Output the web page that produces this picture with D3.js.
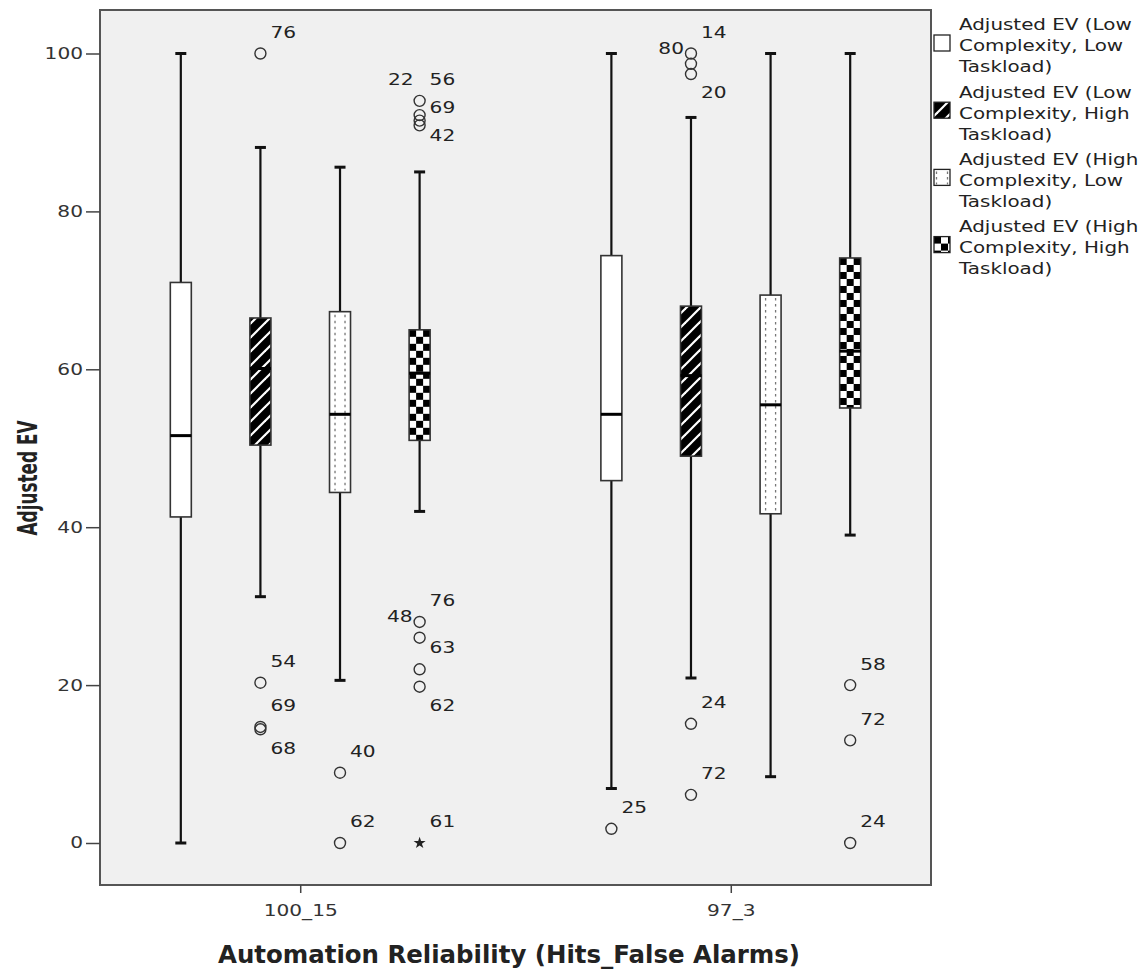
<!DOCTYPE html>
<html><head><meta charset="utf-8">
<script src="https://cdn.jsdelivr.net/npm/d3@7"></script>
<style>body{margin:0;background:#fff} text{font-family:"DejaVu Sans",sans-serif}</style>
</head><body><svg id="c" width="1147" height="977"></svg>
<script>
const categories = ["100_15", "97_3"];
const seriesNames = [
  "Adjusted EV (Low Complexity, Low Taskload)",
  "Adjusted EV (Low Complexity, High Taskload)",
  "Adjusted EV (High Complexity, Low Taskload)",
  "Adjusted EV (High Complexity, High Taskload)"
];
const legendLines = [
  ["Adjusted EV (Low", "Complexity, Low", "Taskload)"],
  ["Adjusted EV (Low", "Complexity, High", "Taskload)"],
  ["Adjusted EV (High", "Complexity, Low", "Taskload)"],
  ["Adjusted EV (High", "Complexity, High", "Taskload)"]
];
// [whiskerLow, q1, median, q3, whiskerHigh] for each category
const statsLowLow   = [[0, 41.3, 51.6, 71.0, 100], [6.9, 45.9, 54.3, 74.4, 100]];
const statsLowHigh  = [[31.2, 50.4, 60.1, 66.5, 88.1], [20.9, 49.0, 59.2, 68.0, 91.9]];
const statsHighLow  = [[20.6, 44.4, 54.3, 67.3, 85.6], [8.4, 41.7, 55.5, 69.4, 100]];
const statsHighHigh = [[42.0, 51.0, 59.5, 65.0, 85.0], [39.0, 55.1, 62.3, 74.1, 100]];
const yTicks = [0, 20, 40, 60, 80, 100];
const xTitle = "Automation Reliability (Hits_False Alarms)";
const yTitle = "Adjusted EV";
// outliers: category, series index, value, case labels with placement code
const outliers = [
  {cat: "100_15", s: 1, v: 100,  labels: [["76", "ur"]]},
  {cat: "100_15", s: 1, v: 20.3, labels: [["54", "ur"]]},
  {cat: "100_15", s: 1, v: 14.7, labels: [["69", "ur"]]},
  {cat: "100_15", s: 1, v: 14.4, labels: [["68", "lr"]]},
  {cat: "100_15", s: 2, v: 8.9,  labels: [["40", "ur"]]},
  {cat: "100_15", s: 2, v: 0,    labels: [["62", "ur"]]},
  {cat: "100_15", s: 3, v: 94.0, labels: [["56", "ur"], ["22", "ul"]]},
  {cat: "100_15", s: 3, v: 92.2, labels: [["69", "r"]]},
  {cat: "100_15", s: 3, v: 91.5, labels: []},
  {cat: "100_15", s: 3, v: 90.9, labels: [["42", "rd"]]},
  {cat: "100_15", s: 3, v: 28.0, labels: [["76", "ur"], ["48", "l"]]},
  {cat: "100_15", s: 3, v: 26.0, labels: [["63", "rd"]]},
  {cat: "100_15", s: 3, v: 22.0, labels: []},
  {cat: "100_15", s: 3, v: 19.8, labels: [["62", "lr"]]},
  {cat: "100_15", s: 3, v: 0,    labels: [["61", "ur"]], extreme: true},
  {cat: "97_3", s: 0, v: 1.8,  labels: [["25", "ur"]]},
  {cat: "97_3", s: 1, v: 100,  labels: [["14", "ur"], ["80", "l"]]},
  {cat: "97_3", s: 1, v: 98.7, labels: []},
  {cat: "97_3", s: 1, v: 97.4, labels: [["20", "lr"]]},
  {cat: "97_3", s: 1, v: 15.1, labels: [["24", "ur"]]},
  {cat: "97_3", s: 1, v: 6.1,  labels: [["72", "ur"]]},
  {cat: "97_3", s: 3, v: 20.0, labels: [["58", "ur"]]},
  {cat: "97_3", s: 3, v: 13.0, labels: [["72", "ur"]]},
  {cat: "97_3", s: 3, v: 0,    labels: [["24", "ur"]]}
];

const allStats = [statsLowLow, statsLowHigh, statsHighLow, statsHighHigh];
const SX = 1.3;          // horizontal stretch of text
const FS = 15.5;
const place = {
  ur: {dx: 10, dy: -21, a: "start"},
  ul: {dx: -6, dy: -21, a: "end"},
  r:  {dx: 10, dy: -8,  a: "start"},
  rd: {dx: 10, dy: 10,  a: "start"},
  lr: {dx: 10, dy: 19,  a: "start"},
  l:  {dx: -7, dy: -5,  a: "end"}
};

const svg = d3.select("#c");
const defs = svg.append("defs");
const P = {left: 100, top: 10, right: 931, bottom: 885};

const x = d3.scalePoint().domain(categories).range([P.left, P.right]).padding(0.465);
const inner = d3.scaleBand().domain(d3.range(seriesNames.length)).range([-159.2, 159.2]);
const y = d3.scaleLinear().domain([0, 100]).range([843, 53.5]);
const BW = 21;

function txt(g, px, py, s, opt = {}) {
  return g.append("g").attr("transform", `translate(${px},${py}) scale(${SX},1)`)
    .append("text").attr("text-anchor", opt.anchor || "start").attr("dy", "0.35em")
    .attr("font-size", opt.size || FS).attr("fill", opt.fill || "#222").text(s);
}

// hatch pattern
const hatch = defs.append("pattern").attr("id", "hatch").attr("patternUnits", "userSpaceOnUse")
  .attr("width", 14).attr("height", 14);
hatch.append("rect").attr("width", 14).attr("height", 14).attr("fill", "#000");
[[0, 14, 14, 0], [-4, 4, 4, -4], [10, 18, 18, 10]].forEach(l =>
  hatch.append("line").attr("x1", l[0]).attr("y1", l[1]).attr("x2", l[2]).attr("y2", l[3])
    .attr("stroke", "#fff").attr("stroke-width", 2.2));

let chkId = 0;
function checker(px, py) {
  const id = "chk" + (chkId++);
  const p = defs.append("pattern").attr("id", id).attr("patternUnits", "userSpaceOnUse")
    .attr("x", px).attr("y", py).attr("width", 14).attr("height", 14);
  p.append("rect").attr("width", 14).attr("height", 14).attr("fill", "#fff");
  p.append("rect").attr("width", 7).attr("height", 7).attr("fill", "#000");
  p.append("rect").attr("x", 7).attr("y", 7).attr("width", 7).attr("height", 7).attr("fill", "#000");
  return `url(#${id})`;
}

// plot frame
svg.append("rect").attr("x", P.left).attr("y", P.top).attr("width", P.right - P.left)
  .attr("height", P.bottom - P.top).attr("fill", "#f0f0f0").attr("stroke", "#555").attr("stroke-width", 2);

// y axis
const ya = svg.append("g").attr("transform", `translate(${P.left},0)`)
  .call(d3.axisLeft(y).tickValues(yTicks).tickSize(14).tickPadding(3));
ya.select(".domain").remove();
ya.selectAll(".tick line").attr("stroke", "#444").attr("stroke-width", 1.5);
ya.selectAll(".tick text").attr("font-size", FS).attr("fill", "#333")
  .attr("font-family", "DejaVu Sans").attr("x", -17 / SX).attr("transform", `scale(${SX},1)`);

// x axis
const xa = svg.append("g").attr("transform", `translate(0,${P.bottom})`)
  .call(d3.axisBottom(x).tickSize(8).tickPadding(12));
xa.select(".domain").remove();
xa.selectAll(".tick line").attr("stroke", "#444").attr("stroke-width", 1.5);
xa.selectAll(".tick text").attr("font-size", FS).attr("fill", "#333")
  .attr("font-family", "DejaVu Sans").attr("transform", `scale(${SX},1)`).attr("x", 0);

// boxes
const plot = svg.append("g");
allStats.forEach((stats, s) => {
  categories.forEach((c, ci) => {
    const [lo, q1, med, q3, hi] = stats[ci];
    const cx = x(c) + inner(s) + inner.bandwidth() / 2;
    const g = plot.append("g");
    g.append("line").attr("x1", cx).attr("x2", cx).attr("y1", y(hi)).attr("y2", y(q3))
      .attr("stroke", "#111").attr("stroke-width", 2.2);
    g.append("line").attr("x1", cx).attr("x2", cx).attr("y1", y(q1)).attr("y2", y(lo))
      .attr("stroke", "#111").attr("stroke-width", 2.2);
    [lo, hi].forEach(v => g.append("line").attr("x1", cx - 5.5).attr("x2", cx + 5.5)
      .attr("y1", y(v)).attr("y2", y(v)).attr("stroke", "#111").attr("stroke-width", 3));
    const bx = cx - BW / 2, by = y(q3), bh = y(q1) - y(q3);
    let fill = "#fff";
    if (s === 1) fill = "url(#hatch)";
    if (s === 3) fill = checker(bx, by);
    g.append("rect").attr("x", bx).attr("y", by).attr("width", BW).attr("height", bh)
      .attr("fill", fill).attr("stroke", "#333").attr("stroke-width", 1.6);
    if (s === 2) {
      [-5, 5].forEach(o => g.append("line").attr("x1", cx + o).attr("x2", cx + o)
        .attr("y1", by + 3).attr("y2", by + bh - 2).attr("stroke", "#777")
        .attr("stroke-width", 1.3).attr("stroke-dasharray", "2.5,3.5"));
    }
    g.append("line").attr("x1", bx).attr("x2", bx + BW).attr("y1", y(med)).attr("y2", y(med))
      .attr("stroke", "#000").attr("stroke-width", 3);
  });
});

// outliers
const og = svg.append("g");
outliers.forEach(o => {
  const cx = x(o.cat) + inner(o.s) + inner.bandwidth() / 2;
  const cy = y(o.v);
  if (o.extreme) {
    og.append("path").attr("d", d3.symbol(d3.symbolStar, 45)()).attr("transform", `translate(${cx},${cy})`)
      .attr("fill", "#222");
  } else {
    og.append("circle").attr("cx", cx).attr("cy", cy).attr("r", 5.5)
      .attr("fill", "none").attr("stroke", "#333").attr("stroke-width", 1.4);
  }
  o.labels.forEach(([lab, code]) => {
    const p = place[code];
    txt(og, cx + p.dx, cy + p.dy, lab, {anchor: p.a});
  });
});

// legend
const lg = svg.append("g");
seriesNames.forEach((name, i) => {
  const sy = 35 + 67.2 * i, sx = 934, sw = 16, sh = 16;
  let fill = "#fff";
  if (i === 1) fill = "url(#hatch)";
  if (i === 3) fill = checker(sx, sy);
  lg.append("rect").attr("x", sx).attr("y", sy).attr("width", sw).attr("height", sh)
    .attr("fill", fill).attr("stroke", "#222").attr("stroke-width", 1.3);
  if (i === 2) {
    [sx + 2.5, sx + sw - 2.5].forEach(lx => lg.append("line").attr("x1", lx).attr("x2", lx)
      .attr("y1", sy + 2).attr("y2", sy + sh - 1).attr("stroke", "#777")
      .attr("stroke-width", 1.3).attr("stroke-dasharray", "2.5,3"));
  }
  legendLines[i].forEach((ln, j) => txt(lg, 959, 25 + 67.2 * i + 21 * j, ln, {fill: "#222", size: 15.3}));
});

// titles
svg.append("text").attr("x", 509).attr("y", 955).attr("dy", "0.35em").attr("text-anchor", "middle")
  .attr("font-family", "Liberation Sans, Arial, sans-serif").attr("font-weight", "bold")
  .attr("font-size", 24).attr("fill", "#222").attr("textLength", 582)
  .attr("lengthAdjust", "spacingAndGlyphs").text(xTitle);
svg.append("g").attr("transform", "translate(28,478) rotate(-90)")
  .append("text").attr("text-anchor", "middle").attr("dy", "0.35em")
  .attr("font-family", "Liberation Sans, Arial, sans-serif").attr("font-weight", "bold")
  .attr("font-size", 27).attr("fill", "#222").attr("textLength", 115)
  .attr("lengthAdjust", "spacingAndGlyphs").text(yTitle);
</script></body></html>
